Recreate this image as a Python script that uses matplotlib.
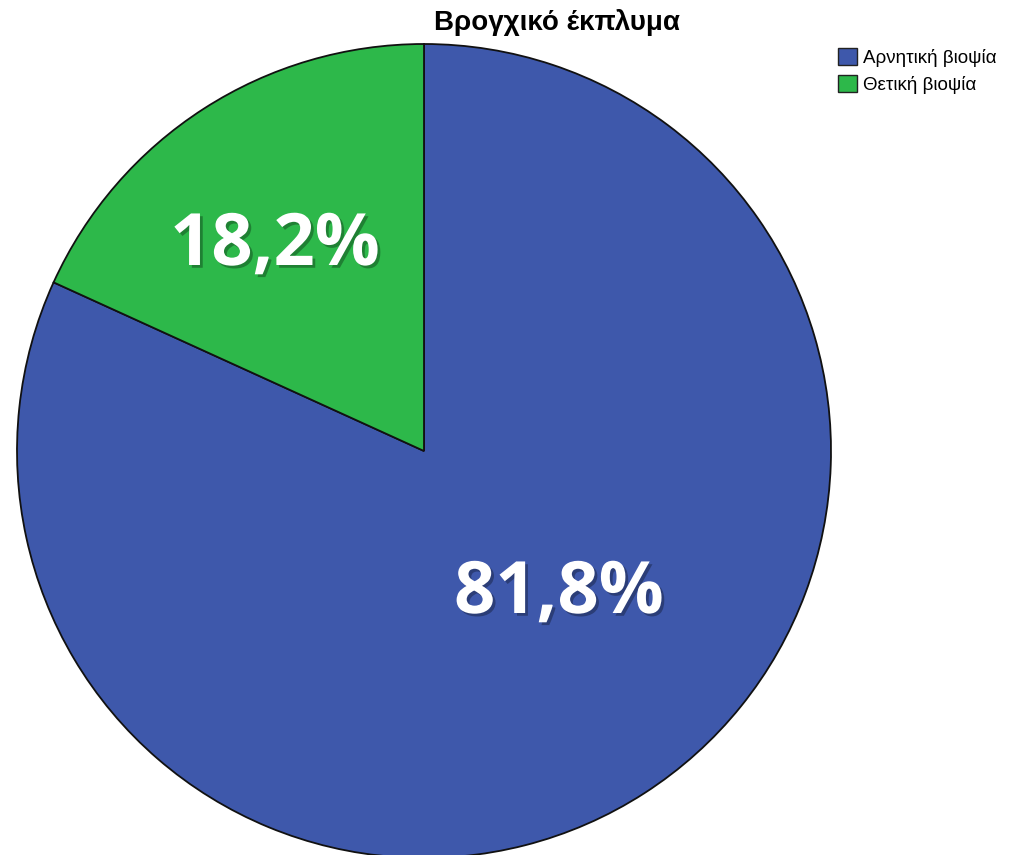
#!/usr/bin/env python

import matplotlib
matplotlib.use('Agg')
import matplotlib.pyplot as plt
import matplotlib.patheffects as pe
from matplotlib.patches import Patch

# data
categories = ['Αρνητική βιοψία', 'Θετική βιοψία']
values = [81.8, 18.2]
pct_labels = ['81,8%', '18,2%']
colors = ['#3E58AB', '#2DB84A']
title = 'Βρογχικό έκπλυμα'

W, H = 1009, 855

fig = plt.figure(figsize=(W / 100.0, H / 100.0), dpi=100)
ax = fig.add_axes([0, 0, 1, 1])

# pie placed in pixel coords (center, radius)
cx, cy, r = 424, H - 451, 407
wedges, _ = ax.pie(values, colors=colors, startangle=90, counterclock=False,
                   center=(cx, cy), radius=r, frame=True,
                   wedgeprops={'edgecolor': '#111111', 'linewidth': 1.3})
ax.set_xlim(0, W)
ax.set_ylim(0, H)
ax.set_aspect('equal')
ax.axis('off')

# percentage labels, white with a soft shadow
label_pos = [(559, H - 594), (275, H - 246)]
shadow = [pe.SimplePatchShadow(offset=(2, -2), shadow_rgbFace='#000000', alpha=0.3),
          pe.Normal()]
for txt, (lx, ly) in zip(pct_labels, label_pos):
    ax.text(lx, ly, txt, ha='center', va='center', color='white',
            fontsize=52, fontweight='bold', family=['Open Sans', 'DejaVu Sans'],
            path_effects=shadow)

fig.text(557 / W, 1 - 23 / H, title, ha='center', va='center',
         fontsize=20, fontweight='bold', family=['Liberation Sans', 'DejaVu Sans'])

handles = [Patch(facecolor=c, edgecolor='#222222', linewidth=1.0) for c in colors]
leg = fig.legend(handles, categories, loc='upper left',
                 bbox_to_anchor=(834 / W, 1 - 44 / H), frameon=False,
                 prop={'family': ['Liberation Sans', 'DejaVu Sans'], 'size': 13.5},
                 handlelength=1.0, handleheight=1.0, handletextpad=0.35,
                 labelspacing=0.45, borderaxespad=0, borderpad=0.2)

fig.savefig('out.png', dpi=100)
